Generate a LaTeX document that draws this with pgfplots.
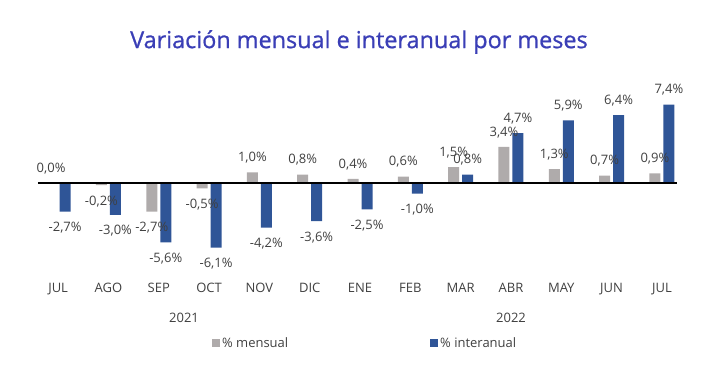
\documentclass[border=0pt]{standalone}
\usepackage{pgfplots}
\pgfplotsset{compat=1.18}
\usepackage{pgfplotstable}
\usepackage{fontspec}
\setmainfont{Open Sans}
\newfontfamily\titlefont[FakeBold=0.8]{Open Sans}
\definecolor{grisbar}{HTML}{AFABAB}
\definecolor{azulbar}{HTML}{2F5597}
\definecolor{titcol}{HTML}{3A3EB6}
\definecolor{txt}{HTML}{404040}

\pgfplotstableread{
x y
0 0.0
1 -0.2
2 -2.7
3 -0.5
4 1.0
5 0.8
6 0.4
7 0.6
8 1.5
9 3.4
10 1.3
11 0.7
12 0.9
}\mensual

\pgfplotstableread{
x y
0 -2.7
1 -3.0
2 -5.6
3 -6.1
4 -4.2
5 -3.6
6 -2.5
7 -1.0
8 0.8
9 4.7
10 5.9
11 6.4
12 7.4
}\interanual

\begin{document}
\begin{tikzpicture}
\useasboundingbox (0,0) rectangle (727bp,374bp);
\node[font=\titlefont\fontsize{23.4bp}{27bp}\selectfont, text=titcol] at (359bp,332bp) {Variación mensual e interanual por meses};
\begin{axis}[
  at={(38bp,95.6bp)}, anchor=south west,
  scale only axis, width=639bp, height=185.5bp,
  xmin=-0.4, xmax=12.3, ymin=-9, ymax=8.5,
  axis line style={draw=none},
  ytick=\empty,
  xtick={0,...,12},
  xticklabels={JUL,AGO,SEP,OCT,NOV,DIC,ENE,FEB,MAR,ABR,MAY,JUN,JUL},
  major tick length=0pt,
  xticklabel style={font=\fontsize{13bp}{15bp}\selectfont, text=txt, inner sep=0pt, text height=9.3bp, text depth=0bp, yshift=-5bp},
  ybar=3bp, bar width=11bp,
  clip=false,
  /pgf/number format/assume math mode=true,
  nodes near coords={\pgfmathprintnumber[fixed,fixed zerofill,precision=1,use comma,assume math mode=true]{\pgfplotspointmeta}\%},
  nodes near coords align={vertical},
  nodes near coords style={font=\fontsize{13bp}{15bp}\selectfont, text=txt, inner xsep=0pt, inner ysep=10.5bp, text height=9.5bp, text depth=0bp},
  legend columns=2,
  legend style={draw=none, fill=none, at={(0.512,-0.348)}, anchor=center,
    font=\fontsize{13bp}{15bp}\selectfont, text=txt,
    /tikz/every even column/.append style={column sep=140bp}},
  legend image code/.code={\fill[#1] (0bp,-4bp) rectangle (8bp,4bp);},
]
\addplot[fill=grisbar, draw=none] table[x=x, y=y] {\mensual};
\addlegendentry{\% mensual}
\addplot[fill=azulbar, draw=none] table[x=x, y=y] {\interanual};
\addlegendentry{\% interanual}
\draw[black, line width=1.2pt] (axis cs:-0.4,0) -- (axis cs:12.3,0);
\end{axis}
\node[font=\fontsize{13bp}{15bp}\selectfont, text=txt] at (184bp,56bp) {2021};
\node[font=\fontsize{13bp}{15bp}\selectfont, text=txt] at (511bp,56bp) {2022};
\end{tikzpicture}
\end{document}
